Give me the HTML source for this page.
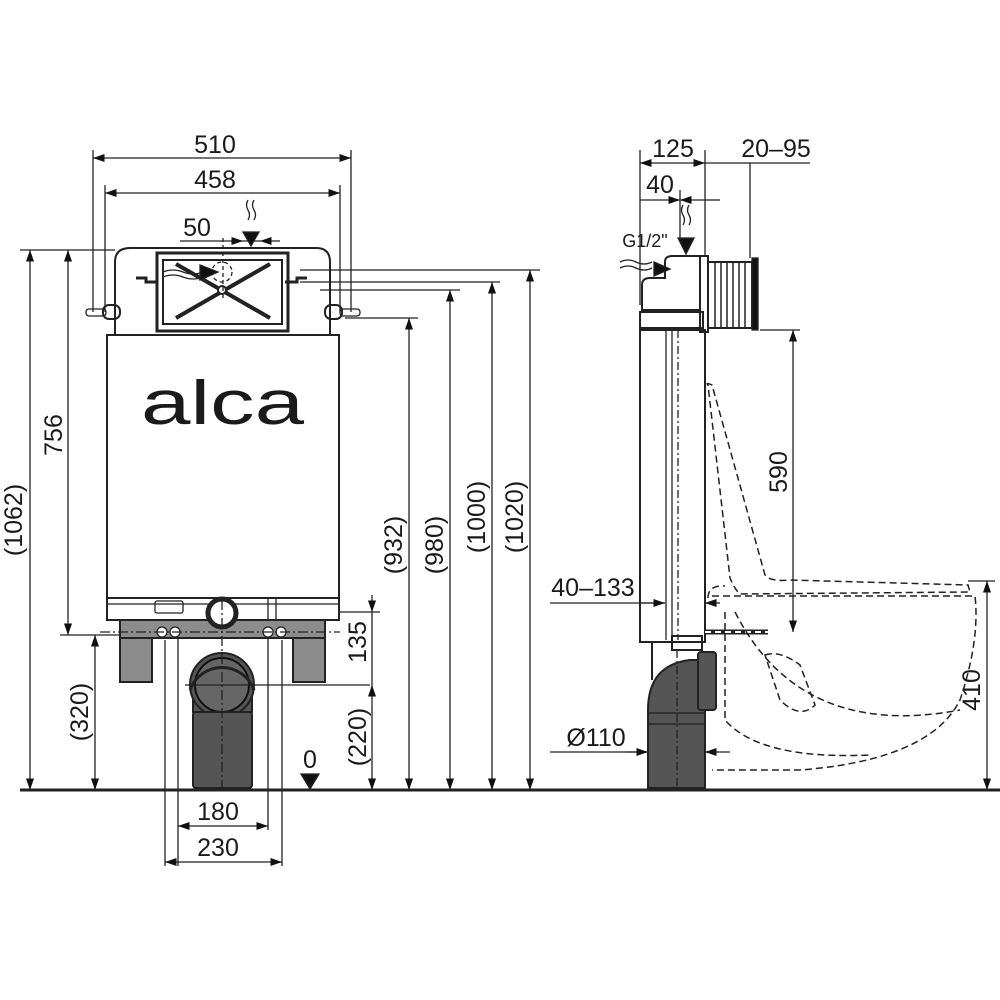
<!DOCTYPE html>
<html><head><meta charset="utf-8"><style>
html,body{margin:0;padding:0;background:#fff}
svg{display:block}
text{font-family:"Liberation Sans",sans-serif;font-size:25px;fill:#1a1a1a}
</style></head><body>
<svg width="1000" height="1000" viewBox="0 0 1000 1000">
<defs>
<marker id="a" viewBox="0 0 10 10" refX="10" refY="5" markerWidth="9" markerHeight="9" orient="auto-start-reverse"><path d="M0,1.5 L10,5 L0,8.5Z" fill="#111"/></marker>
</defs>
<g stroke="#222" fill="none" stroke-width="1.3">
<line x1="20" y1="790" x2="1000" y2="790" stroke-width="3"/>

<path d="M115,335 V262 Q115,248 130,248 H316 Q330,248 330,262 V335" stroke-width="2"/>
<rect x="157" y="253" width="131" height="78" stroke-width="3"/>
<rect x="163" y="260" width="119" height="64" stroke-width="2"/>
<line x1="176" y1="318" x2="270" y2="264" stroke-width="4"/>
<line x1="176" y1="264" x2="270" y2="318" stroke-width="4"/>
<circle cx="222" cy="290" r="4" fill="#fff" stroke-width="2"/>
<circle cx="222" cy="272" r="10" stroke-dasharray="4 3"/>
<path d="M163,272 q10,-4 20,0 t20,0 M163,277 q10,-4 20,0 t20,0" />
<path d="M200,265 L218,272 L200,280Z" fill="#111"/>
<path d="M136,278 h10 v4 h12 M307,278 h-10 v4 h-12" stroke-width="3"/>
<rect x="103" y="305" width="17" height="14" rx="6" stroke-width="2"/>
<rect x="325" y="305" width="17" height="14" rx="6" stroke-width="2"/>
<rect x="86" y="309" width="20" height="7" rx="3"/>
<rect x="340" y="309" width="20" height="7" rx="3"/>
<rect x="107" y="335" width="232" height="263" fill="#fff" stroke-width="2"/>
<rect x="107" y="598" width="232" height="22" stroke-width="2"/>
<line x1="107" y1="604" x2="339" y2="604"/>
<rect x="155" y="601" width="28" height="12" rx="2"/>
<line x1="268" y1="598" x2="268" y2="620"/><line x1="276" y1="598" x2="276" y2="620"/>
<rect x="120" y="620" width="205" height="18" fill="#8c8c8c" stroke-width="2"/>
<rect x="120" y="638" width="32" height="44" fill="#8c8c8c" stroke-width="2"/>
<rect x="293" y="638" width="32" height="44" fill="#8c8c8c" stroke-width="2"/>
<circle cx="222" cy="613" r="14" fill="#fff" stroke-width="5"/>
<circle cx="162" cy="632" r="5" fill="#fff"/><circle cx="175" cy="632" r="5" fill="#fff"/>
<circle cx="268" cy="632" r="5" fill="#fff"/><circle cx="281" cy="632" r="5" fill="#fff"/>
<path d="M193,712 V690 A30,30 0 0 1 252,690 V712 Z" fill="#555" stroke-width="2"/>
<circle cx="222" cy="685" r="32" fill="#555" stroke-width="2"/>
<circle cx="222" cy="685" r="27" fill="#666" stroke="#111" stroke-width="2"/>
<path d="M190,690 A34,34 0 0 1 254,690" stroke-width="3"/>
<rect x="193" y="712" width="59" height="76" rx="3" fill="#555" stroke-width="2"/>
<line x1="222" y1="600" x2="222" y2="790" stroke-dasharray="10 3 2 3"/>
<line x1="100" y1="632" x2="340" y2="632" stroke-dasharray="10 3 2 3"/>
<line x1="185" y1="685" x2="370" y2="685"/>

<line x1="93" y1="150" x2="93" y2="312"/><line x1="351" y1="150" x2="351" y2="312"/>
<line x1="93" y1="158" x2="351" y2="158" marker-start="url(#a)" marker-end="url(#a)"/>
<line x1="105" y1="185" x2="105" y2="312"/><line x1="340" y1="185" x2="340" y2="312"/>
<line x1="105" y1="193" x2="340" y2="193" marker-start="url(#a)" marker-end="url(#a)"/>
<line x1="180" y1="241" x2="243" y2="241" marker-end="url(#a)"/>
<line x1="280" y1="241" x2="260" y2="241" marker-end="url(#a)"/>
<line x1="243" y1="241" x2="260" y2="241"/>
<line x1="223" y1="238" x2="223" y2="300" stroke-dasharray="4 3"/>
<path d="M243,232 L251,246 L259,232Z" fill="#111"/>
<path d="M248,200 q-3,5 0,10 t0,10 M254,200 q-3,5 0,10 t0,10"/>
<line x1="20" y1="250" x2="115" y2="250"/>
<line x1="30" y1="250" x2="30" y2="790" marker-start="url(#a)" marker-end="url(#a)"/>
<line x1="68" y1="250" x2="68" y2="635" marker-start="url(#a)" marker-end="url(#a)"/>
<line x1="60" y1="635" x2="120" y2="635"/>
<line x1="95" y1="635" x2="95" y2="790" marker-start="url(#a)" marker-end="url(#a)"/>
<line x1="300" y1="270" x2="540" y2="270"/>
<line x1="300" y1="282" x2="500" y2="282"/>
<line x1="320" y1="290" x2="460" y2="290"/>
<line x1="345" y1="318" x2="418" y2="318"/>
<line x1="409" y1="318" x2="409" y2="790" marker-start="url(#a)" marker-end="url(#a)"/>
<line x1="450" y1="290" x2="450" y2="790" marker-start="url(#a)" marker-end="url(#a)"/>
<line x1="492" y1="282" x2="492" y2="790" marker-start="url(#a)" marker-end="url(#a)"/>
<line x1="530" y1="270" x2="530" y2="790" marker-start="url(#a)" marker-end="url(#a)"/>
<line x1="340" y1="612" x2="380" y2="612"/>
<line x1="372" y1="595" x2="372" y2="612" marker-end="url(#a)"/>
<line x1="372" y1="612" x2="372" y2="685"/>
<line x1="372" y1="685" x2="372" y2="790" marker-start="url(#a)" marker-end="url(#a)"/>
<path d="M301,774 L319,774 L310,789Z" fill="#111"/>
<line x1="178" y1="638" x2="178" y2="866"/><line x1="268" y1="638" x2="268" y2="830"/>
<line x1="165" y1="640" x2="165" y2="866"/><line x1="282" y1="640" x2="282" y2="866"/>
<line x1="178" y1="826" x2="268" y2="826" marker-start="url(#a)" marker-end="url(#a)"/>
<line x1="165" y1="862" x2="282" y2="862" marker-start="url(#a)" marker-end="url(#a)"/>

<rect x="640" y="330" width="65" height="312" stroke-width="2"/>
<line x1="666" y1="330" x2="666" y2="640"/><line x1="672" y1="330" x2="672" y2="640"/>
<line x1="678" y1="330" x2="678" y2="640" stroke-dasharray="8 3 2 3"/>
<path d="M642,310 V285 Q642,278 650,278 H665 V262 Q665,256 672,256 H700 V310Z" stroke-width="2"/>
<rect x="640" y="312" width="63" height="16" stroke-width="2"/>
<rect x="700" y="256" width="8" height="76" stroke-width="2"/>
<rect x="708" y="262" width="44" height="66" stroke-width="2"/>
<g stroke-width="1.5"><line x1="715" y1="262" x2="715" y2="328"/><line x1="721" y1="262" x2="721" y2="328"/><line x1="727" y1="262" x2="727" y2="328"/><line x1="733" y1="262" x2="733" y2="328"/><line x1="739" y1="262" x2="739" y2="328"/><line x1="745" y1="262" x2="745" y2="328"/></g>
<rect x="752" y="258" width="6" height="72" fill="#111"/>
<path d="M654,262 L670,269 L654,276Z" fill="#111"/>
<path d="M620,262 q8,-4 16,0 t16,0 M620,268 q8,-4 16,0 t16,0"/>
<path d="M678,238 L686,254 L694,238Z" fill="#111"/>
<path d="M683,205 q-3,5 0,10 t0,10 M689,205 q-3,5 0,10 t0,10"/>
<rect x="672" y="636" width="30" height="14" stroke-width="2"/>
<line x1="705" y1="632" x2="768" y2="632" stroke-width="5"/>
<line x1="705" y1="632" x2="768" y2="632" stroke="#fff" stroke-width="2" stroke-dasharray="6 4"/>
<line x1="652" y1="642" x2="652" y2="680" stroke-width="2"/>
<path d="M648,788 V710 Q648,665 690,660 H705 V788Z" fill="#555" stroke-width="2"/>
<line x1="648" y1="713" x2="705" y2="713"/><line x1="648" y1="724" x2="705" y2="724"/>
<rect x="698" y="652" width="18" height="58" rx="3" fill="#555" stroke-width="2"/>
<line x1="677" y1="650" x2="677" y2="790" stroke-dasharray="8 3 2 3"/>
<g stroke-dasharray="7 4" stroke-width="1.5">
<path d="M708,385 Q705,382 712,385 L765,575 Q770,582 790,580 L968,585 L970,592 L740,594 Q735,590 730,578 L708,385"/>
<path d="M708,598 Q708,585 725,586 M712,596 H975 Q980,640 960,700 Q930,760 800,770 H712"/>
<path d="M725,612 V720 Q760,760 870,755"/>
<path d="M735,612 Q800,740 960,710"/>
<path d="M765,655 Q780,650 800,665 L815,705 Q800,720 780,700 Z"/>
</g>
<line x1="640" y1="150" x2="640" y2="305"/><line x1="705" y1="150" x2="705" y2="256"/>
<line x1="750" y1="163" x2="750" y2="258"/>
<line x1="640" y1="163" x2="705" y2="163" marker-start="url(#a)" marker-end="url(#a)"/>
<line x1="705" y1="163" x2="810" y2="163"/>
<line x1="640" y1="200" x2="680" y2="200" marker-end="url(#a)"/>
<line x1="680" y1="200" x2="705" y2="200" marker-start="url(#a)"/>
<line x1="705" y1="200" x2="720" y2="200"/>
<line x1="680" y1="190" x2="680" y2="240"/>
<line x1="760" y1="330" x2="800" y2="330"/>
<line x1="793" y1="330" x2="793" y2="632" marker-start="url(#a)" marker-end="url(#a)"/>
<line x1="968" y1="581" x2="995" y2="581"/>
<line x1="987" y1="581" x2="987" y2="790" marker-start="url(#a)" marker-end="url(#a)"/>
<line x1="550" y1="603" x2="665" y2="603"/>
<line x1="640" y1="603" x2="665" y2="603" marker-end="url(#a)"/>
<line x1="720" y1="603" x2="705" y2="603" marker-end="url(#a)"/>
<line x1="550" y1="752" x2="648" y2="752"/>
<line x1="625" y1="752" x2="648" y2="752" marker-end="url(#a)"/>
<line x1="730" y1="752" x2="705" y2="752" marker-end="url(#a)"/>
</g>

<text x="141" y="424" style="font-size:62px" textLength="163" lengthAdjust="spacingAndGlyphs" fill="#222">alca</text>
<text x="215" y="153" text-anchor="middle">510</text>
<text x="215" y="188" text-anchor="middle">458</text>
<text x="197" y="236" text-anchor="middle">50</text>
<text x="218" y="820" text-anchor="middle">180</text>
<text x="218" y="856" text-anchor="middle">230</text>
<text x="310" y="768" text-anchor="middle">0</text>
<text transform="translate(22,520) rotate(-90)" text-anchor="middle">(1062)</text>
<text transform="translate(62,435) rotate(-90)" text-anchor="middle">756</text>
<text transform="translate(88,712) rotate(-90)" text-anchor="middle">(320)</text>
<text transform="translate(366,642) rotate(-90)" text-anchor="middle">135</text>
<text transform="translate(366,737) rotate(-90)" text-anchor="middle">(220)</text>
<text transform="translate(402,545) rotate(-90)" text-anchor="middle">(932)</text>
<text transform="translate(443,545) rotate(-90)" text-anchor="middle">(980)</text>
<text transform="translate(485,517) rotate(-90)" text-anchor="middle">(1000)</text>
<text transform="translate(523,517) rotate(-90)" text-anchor="middle">(1020)</text>
<text x="673" y="157" text-anchor="middle">125</text>
<text x="776" y="157" text-anchor="middle">20–95</text>
<text x="660" y="193" text-anchor="middle">40</text>
<text x="645" y="247" text-anchor="middle" style="font-size:18px">G1/2"</text>
<text transform="translate(787,472) rotate(-90)" text-anchor="middle">590</text>
<text transform="translate(980,690) rotate(-90)" text-anchor="middle" style="fill:#1a1a1a">410</text>
<text x="593" y="596" text-anchor="middle">40–133</text>
<text x="596" y="746" text-anchor="middle">Ø110</text>
</svg>
</body></html>
